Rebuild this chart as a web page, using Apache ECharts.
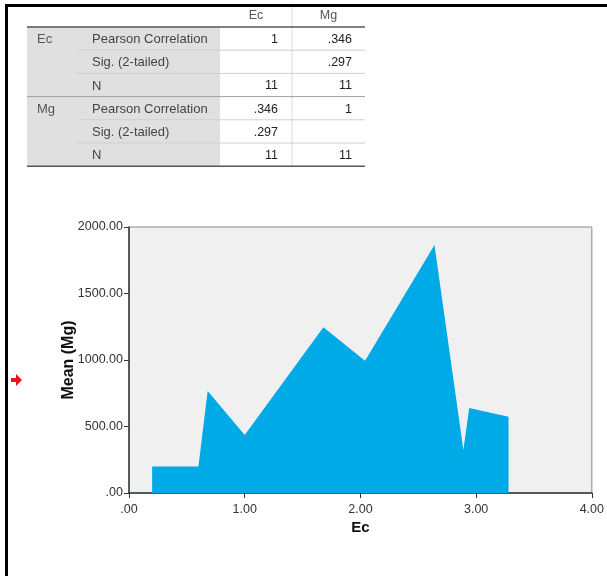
<!DOCTYPE html>
<html>
<head>
<meta charset="utf-8">
<script src="https://cdn.jsdelivr.net/npm/echarts@6/dist/echarts.min.js"></script>
<style>
html,body{margin:0;padding:0;background:#fff;}
#c{width:607px;height:576px;}
</style>
</head>
<body>
<div id="c"></div>
<script>
// ---- Data ----
var ecPoints = [0.20, 0.60, 0.68, 1.00, 1.68, 2.04, 2.64, 2.89, 2.94, 3.28];
var mgMeans  = [200, 200, 767, 436, 1246, 995, 1865, 323, 639, 574];
var xTicks = ['.00', '1.00', '2.00', '3.00', '4.00'];
var yTicks = ['.00', '500.00', '1000.00', '1500.00', '2000.00'];

var tableColHeaders = ['Ec', 'Mg'];
var tableGroups = ['Ec', 'Mg'];
var tableStats = ['Pearson Correlation', 'Sig. (2-tailed)', 'N'];
var tableEcCol = ['1', '', '11', '.346', '.297', '11'];
var tableMgCol = ['.346', '.297', '11', '1', '', '11'];

// ---- Table layout ----
var FONT = 'Liberation Sans, Arial, sans-serif';
var tL = 27, tSub = 77, tC1 = 220, tC2 = 292, tR = 365;
var tHeadBottom = 27, rowH = 23.2;
var g = [];
// grey label area
g.push({type:'rect', shape:{x:tL, y:tHeadBottom, width:tC1-tL, height:rowH*6}, style:{fill:'#E0E0E0'}, silent:true});
// vertical separators
g.push({type:'line', shape:{x1:tC2, y1:7, x2:tC2, y2:tHeadBottom+rowH*6}, style:{stroke:'#DADADA', lineWidth:1}});
// header texts
tableColHeaders.forEach(function(h,i){
  var cx = i===0 ? (tC1+tC2)/2 : (tC2+tR)/2;
  g.push({type:'text', style:{text:h, x:cx, y:16, align:'center', verticalAlign:'middle', font:'12.5px '+FONT, fill:'#555'}});
});
// horizontal lines
g.push({type:'line', shape:{x1:tL, y1:tHeadBottom, x2:tR, y2:tHeadBottom}, style:{stroke:'#555', lineWidth:1.5}});
for (var r=1;r<6;r++){
  var yy = tHeadBottom + rowH*r;
  var full = (r===3);
  g.push({type:'line', shape:{x1: full?tL:tSub, y1:yy, x2:tR, y2:yy}, style:{stroke: full?'#A0A0A0':'#CFCFCF', lineWidth:1}});
}
g.push({type:'line', shape:{x1:tL, y1:tHeadBottom+rowH*6, x2:tR, y2:tHeadBottom+rowH*6}, style:{stroke:'#555', lineWidth:1.5}});
// rows
for (var r=0;r<6;r++){
  var cy = tHeadBottom + rowH*r + rowH/2 + 1;
  if (r%3===0) g.push({type:'text', style:{text:tableGroups[r/3], x:37, y:cy, verticalAlign:'middle', font:'13px '+FONT, fill:'#555'}});
  g.push({type:'text', style:{text:tableStats[r%3], x:92, y:cy, verticalAlign:'middle', font:'13px '+FONT, fill:'#444'}});
  g.push({type:'text', style:{text:tableEcCol[r], x:tC2-14, y:cy, align:'right', verticalAlign:'middle', font:'12.5px '+FONT, fill:'#222'}});
  g.push({type:'text', style:{text:tableMgCol[r], x:tR-13, y:cy, align:'right', verticalAlign:'middle', font:'12.5px '+FONT, fill:'#222'}});
}
// page frame (top + left)
g.push({type:'rect', shape:{x:5, y:4, width:602, height:3}, style:{fill:'#000'}});
g.push({type:'rect', shape:{x:5, y:4, width:3, height:572}, style:{fill:'#000'}});
// red arrow marker
g.push({type:'polygon', shape:{points:[[11,378],[16,378],[16,374],[22,380],[16,386],[16,382],[11,382]]}, style:{fill:'#E8141B'}});

var chart = echarts.init(document.getElementById('c'), null, {renderer:'canvas'});
chart.setOption({
  animation:false,
  backgroundColor:'#fff',
  grid:{left:129, right:15, top:227, bottom:83, show:true, backgroundColor:'#F0F0F0', borderColor:'#8A8A8A', borderWidth:1},
  xAxis:{
    type:'value', min:0, max:4, interval:1,
    name:'Ec', nameLocation:'middle', nameGap:27, nameMoveOverlap:false,
    nameTextStyle:{fontFamily:FONT, fontWeight:'bold', fontSize:15, color:'#111'},
    axisLine:{show:true, lineStyle:{color:'#2E3A3A', width:1.5}},
    axisTick:{show:true, length:5, lineStyle:{color:'#333'}},
    axisLabel:{fontFamily:FONT, fontSize:12.5, color:'#333', margin:10, formatter:function(v){return xTicks[Math.round(v)];}},
    splitLine:{show:false}
  },
  yAxis:{
    type:'value', min:0, max:2000, interval:500,
    name:'Mean (Mg)', nameLocation:'middle', nameGap:52, nameRotate:90, nameMoveOverlap:false,
    nameTextStyle:{fontFamily:FONT, fontWeight:'bold', fontSize:16, color:'#111'},
    axisLine:{show:true, lineStyle:{color:'#2E3A3A', width:1.5}},
    axisTick:{show:true, length:5, lineStyle:{color:'#333'}},
    axisLabel:{fontFamily:FONT, fontSize:12.5, color:'#333', margin:6, formatter:function(v){return yTicks[Math.round(v/500)];}},
    splitLine:{show:false}
  },
  series:[{
    type:'line',
    data: ecPoints.map(function(x,i){return [x, mgMeans[i]];}),
    symbol:'none',
    lineStyle:{width:0},
    areaStyle:{color:'#00AAE7', opacity:1}
  }],
  graphic: g
});
</script>
</body>
</html>
